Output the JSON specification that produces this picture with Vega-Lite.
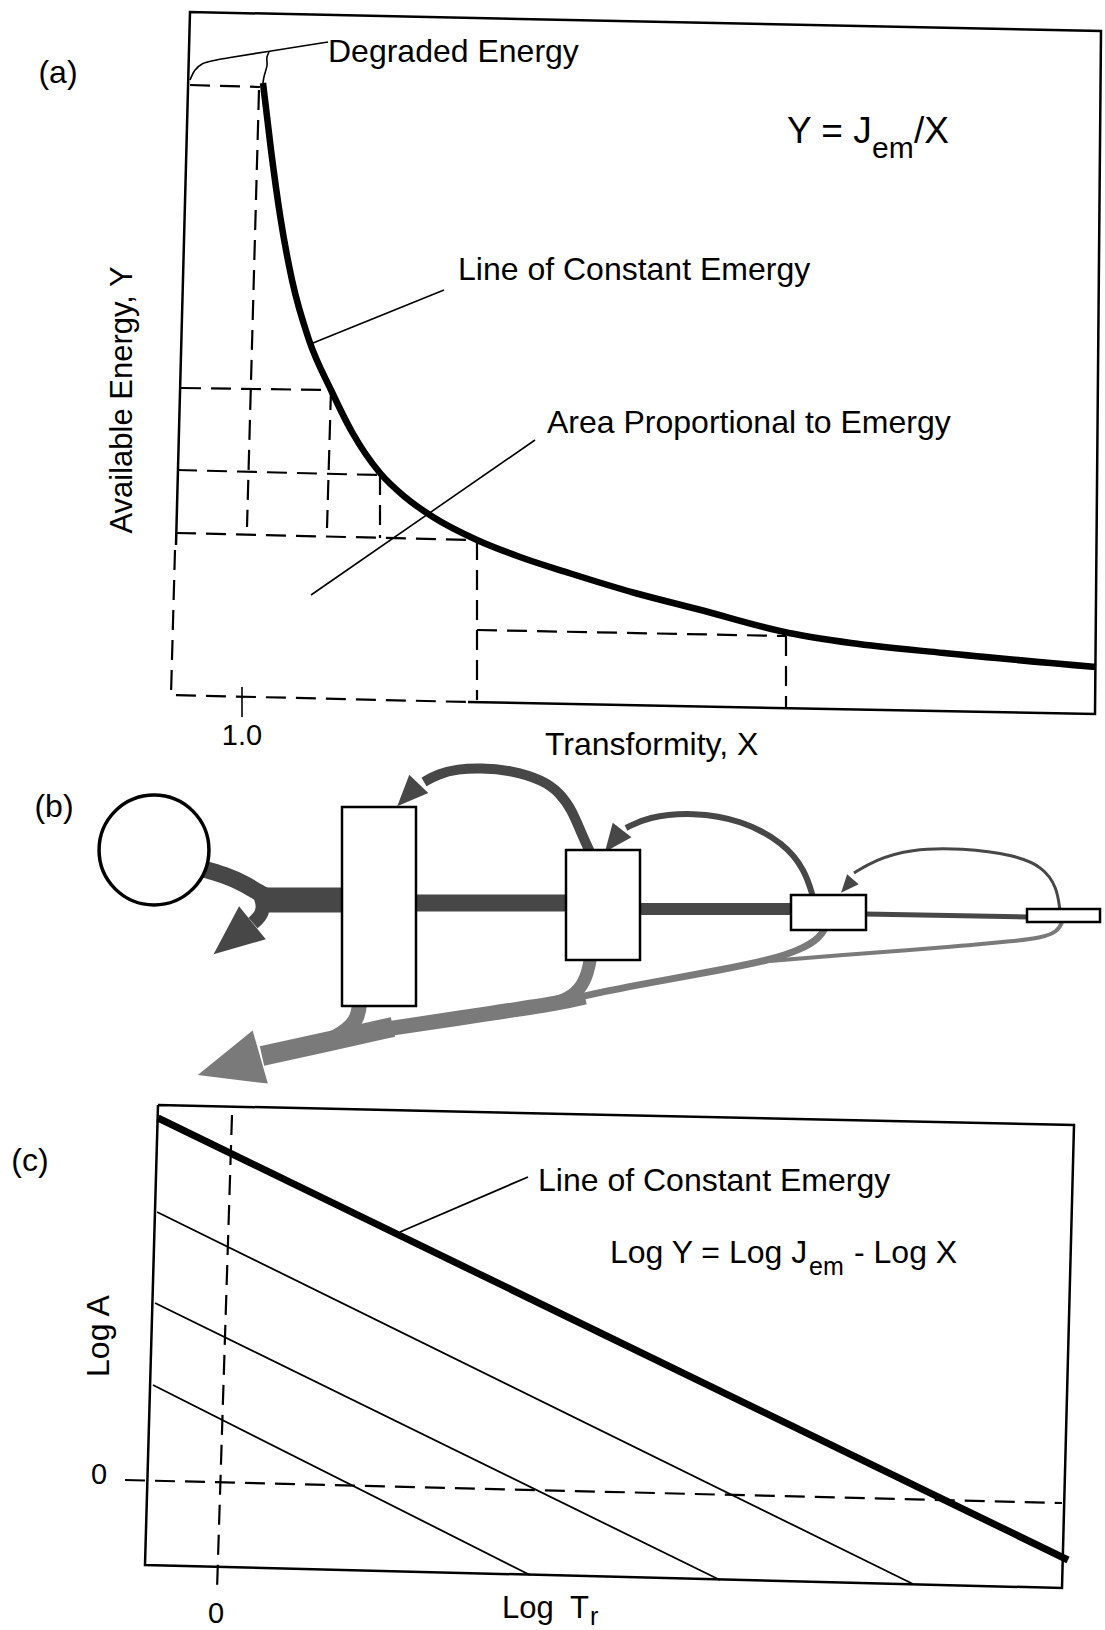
{
  "$schema": "https://vega.github.io/schema/vega-lite/v6.json",
  "background": "white",
  "padding": 0,
  "spacing": 0,
  "bounds": "flush",
  "config": {"view": {"stroke": null}, "font": "Liberation Sans"},
  "resolve": {"scale": {"x": "independent", "y": "independent"}},
  "datasets": {
    "a_lines": [
      {"id": "frame", "kind": "frame", "o": 1, "x": 0.35, "y": 1.50},
      {"id": "frame", "kind": "frame", "o": 2, "x": 0.49, "y": 6.83},
      {"id": "frame", "kind": "frame", "o": 3, "x": 9.60, "y": 6.64},
      {"id": "frame", "kind": "frame", "o": 4, "x": 9.54, "y": -0.19},
      {"id": "frame", "kind": "frame", "o": 5, "x": 3.27, "y": -0.07},
      {"id": "deg", "kind": "leader", "o": 1, "x": 0.49, "y": 6.15},
      {"id": "deg", "kind": "leader", "o": 2, "x": 0.53, "y": 6.25},
      {"id": "deg", "kind": "leader", "o": 3, "x": 0.61, "y": 6.32},
      {"id": "deg", "kind": "leader", "o": 4, "x": 0.72, "y": 6.35},
      {"id": "deg", "kind": "leader", "o": 5, "x": 1.87, "y": 6.53},
      {"id": "squig", "kind": "leader", "o": 1, "x": 1.28, "y": 6.43},
      {"id": "squig", "kind": "leader", "o": 2, "x": 1.25, "y": 6.37},
      {"id": "squig", "kind": "leader", "o": 3, "x": 1.27, "y": 6.30},
      {"id": "squig", "kind": "leader", "o": 4, "x": 1.23, "y": 6.20},
      {"id": "squig", "kind": "leader", "o": 5, "x": 1.22, "y": 6.12},
      {"id": "lead1", "kind": "leader", "o": 1, "x": 3.03, "y": 4.05},
      {"id": "lead1", "kind": "leader", "o": 2, "x": 1.72, "y": 3.52},
      {"id": "lead2", "kind": "leader", "o": 1, "x": 3.94, "y": 2.55},
      {"id": "lead2", "kind": "leader", "o": 2, "x": 1.70, "y": 1.00},
      {"id": "tick", "kind": "leader", "o": 1, "x": 1.01, "y": 0.08},
      {"id": "tick", "kind": "leader", "o": 2, "x": 1.01, "y": -0.22},
      {"id": "dl", "kind": "guide", "o": 1, "x": 0.34, "y": 1.45},
      {"id": "dl", "kind": "guide", "o": 2, "x": 0.30, "y": 0.00},
      {"id": "dl", "kind": "guide", "o": 3, "x": 3.27, "y": -0.07},
      {"id": "h1", "kind": "guide", "o": 1, "x": 0.49, "y": 6.10},
      {"id": "h1", "kind": "guide", "o": 2, "x": 1.19, "y": 6.08},
      {"id": "v1", "kind": "guide", "o": 1, "x": 1.18, "y": 6.05},
      {"id": "v1", "kind": "guide", "o": 2, "x": 1.06, "y": 1.68},
      {"id": "h2", "kind": "guide", "o": 1, "x": 0.40, "y": 3.07},
      {"id": "h2", "kind": "guide", "o": 2, "x": 1.89, "y": 3.05},
      {"id": "v2", "kind": "guide", "o": 1, "x": 1.90, "y": 3.05},
      {"id": "v2", "kind": "guide", "o": 2, "x": 1.86, "y": 1.67},
      {"id": "h3", "kind": "guide", "o": 1, "x": 0.36, "y": 2.25},
      {"id": "h3", "kind": "guide", "o": 2, "x": 2.37, "y": 2.20},
      {"id": "v3", "kind": "guide", "o": 1, "x": 2.39, "y": 2.20},
      {"id": "v3", "kind": "guide", "o": 2, "x": 2.39, "y": 1.57},
      {"id": "h4", "kind": "guide", "o": 1, "x": 0.35, "y": 1.62},
      {"id": "h4", "kind": "guide", "o": 2, "x": 3.34, "y": 1.55},
      {"id": "v4", "kind": "guide", "o": 1, "x": 3.36, "y": 1.55},
      {"id": "v4", "kind": "guide", "o": 2, "x": 3.36, "y": -0.05},
      {"id": "h5", "kind": "guide", "o": 1, "x": 3.36, "y": 0.65},
      {"id": "h5", "kind": "guide", "o": 2, "x": 6.45, "y": 0.59},
      {"id": "v5", "kind": "guide", "o": 1, "x": 6.45, "y": 0.59},
      {"id": "v5", "kind": "guide", "o": 2, "x": 6.45, "y": -0.12}
    ],
    "a_curve": [
      {"x": 1.22, "y": 6.12}, {"x": 1.30, "y": 5.45}, {"x": 1.39, "y": 4.80},
      {"x": 1.51, "y": 4.15}, {"x": 1.68, "y": 3.55}, {"x": 1.90, "y": 3.05},
      {"x": 2.11, "y": 2.63}, {"x": 2.39, "y": 2.22}, {"x": 2.64, "y": 1.98},
      {"x": 2.92, "y": 1.78}, {"x": 3.36, "y": 1.55}, {"x": 3.79, "y": 1.38},
      {"x": 4.28, "y": 1.22}, {"x": 4.94, "y": 1.02}, {"x": 5.56, "y": 0.86},
      {"x": 6.48, "y": 0.62}, {"x": 7.10, "y": 0.52}, {"x": 8.03, "y": 0.42},
      {"x": 9.55, "y": 0.28}
    ],
    "a_text": [
      {"t": "(a)", "role": "tag", "x": -0.83, "y": 6.12},
      {"t": "Degraded Energy", "role": "label", "x": 1.87, "y": 6.33},
      {"t": "Line of Constant Emergy", "role": "label", "x": 3.17, "y": 4.15},
      {"t": "Area Proportional to Emergy", "role": "label", "x": 4.06, "y": 2.62},
      {"t": "Transformity, X", "role": "label", "x": 4.04, "y": -0.60},
      {"t": "Y = J", "role": "eq", "x": 6.46, "y": 5.52},
      {"t": "em", "role": "sub", "x": 7.31, "y": 5.37},
      {"t": "/X", "role": "eq", "x": 7.73, "y": 5.52},
      {"t": "1.0", "role": "tick", "x": 1.01, "y": -0.50},
      {"t": "Available Energy, Y", "role": "ytitle", "x": -0.18, "y": 2.95}
    ],
    "b_flows": [
      {"id": "cs", "kind": "pipe", "flow": 17, "o": 1, "x": 2.00, "y": 1.03},
      {"id": "cs", "kind": "pipe", "flow": 17, "o": 2, "x": 2.25, "y": 1.10},
      {"id": "cs", "kind": "pipe", "flow": 17, "o": 3, "x": 2.45, "y": 1.19},
      {"id": "cs", "kind": "pipe", "flow": 17, "o": 4, "x": 2.62, "y": 1.30},
      {"id": "cs", "kind": "pipe", "flow": 17, "o": 5, "x": 2.75, "y": 1.35},
      {"id": "p1", "kind": "pipe", "flow": 25, "o": 1, "x": 2.62, "y": 1.35},
      {"id": "p1", "kind": "pipe", "flow": 25, "o": 2, "x": 3.43, "y": 1.35},
      {"id": "br", "kind": "pipe", "flow": 14, "o": 1, "x": 2.60, "y": 1.30},
      {"id": "br", "kind": "pipe", "flow": 14, "o": 2, "x": 2.64, "y": 1.42},
      {"id": "br", "kind": "pipe", "flow": 14, "o": 3, "x": 2.60, "y": 1.52},
      {"id": "br", "kind": "pipe", "flow": 14, "o": 4, "x": 2.53, "y": 1.58},
      {"id": "p2", "kind": "pipe", "flow": 17, "o": 1, "x": 4.15, "y": 1.38},
      {"id": "p2", "kind": "pipe", "flow": 17, "o": 2, "x": 5.67, "y": 1.38},
      {"id": "p3", "kind": "pipe", "flow": 12, "o": 1, "x": 6.39, "y": 1.44},
      {"id": "p3", "kind": "pipe", "flow": 12, "o": 2, "x": 7.92, "y": 1.44},
      {"id": "p4", "kind": "pipe", "flow": 5, "o": 1, "x": 8.65, "y": 1.49},
      {"id": "p4", "kind": "pipe", "flow": 5, "o": 2, "x": 10.28, "y": 1.52},
      {"id": "fb1", "kind": "pipe", "flow": 10, "o": 1, "x": 5.91, "y": 0.89},
      {"id": "fb1", "kind": "pipe", "flow": 10, "o": 2, "x": 5.82, "y": 0.70},
      {"id": "fb1", "kind": "pipe", "flow": 10, "o": 3, "x": 5.72, "y": 0.45},
      {"id": "fb1", "kind": "pipe", "flow": 10, "o": 4, "x": 5.60, "y": 0.28},
      {"id": "fb1", "kind": "pipe", "flow": 10, "o": 5, "x": 5.43, "y": 0.15},
      {"id": "fb1", "kind": "pipe", "flow": 10, "o": 6, "x": 5.10, "y": 0.05},
      {"id": "fb1", "kind": "pipe", "flow": 10, "o": 7, "x": 4.80, "y": 0.03},
      {"id": "fb1", "kind": "pipe", "flow": 10, "o": 8, "x": 4.58, "y": 0.04},
      {"id": "fb1", "kind": "pipe", "flow": 10, "o": 9, "x": 4.38, "y": 0.09},
      {"id": "fb1", "kind": "pipe", "flow": 10, "o": 10, "x": 4.24, "y": 0.17},
      {"id": "fb2", "kind": "pipe", "flow": 6, "o": 1, "x": 8.13, "y": 1.32},
      {"id": "fb2", "kind": "pipe", "flow": 6, "o": 2, "x": 8.05, "y": 1.05},
      {"id": "fb2", "kind": "pipe", "flow": 6, "o": 3, "x": 7.84, "y": 0.78},
      {"id": "fb2", "kind": "pipe", "flow": 6, "o": 4, "x": 7.42, "y": 0.55},
      {"id": "fb2", "kind": "pipe", "flow": 6, "o": 5, "x": 6.93, "y": 0.47},
      {"id": "fb2", "kind": "pipe", "flow": 6, "o": 6, "x": 6.47, "y": 0.52},
      {"id": "fb2", "kind": "pipe", "flow": 6, "o": 7, "x": 6.26, "y": 0.63},
      {"id": "fb3", "kind": "pipe", "flow": 3, "o": 1, "x": 10.60, "y": 1.46},
      {"id": "fb3", "kind": "pipe", "flow": 3, "o": 2, "x": 10.57, "y": 1.22},
      {"id": "fb3", "kind": "pipe", "flow": 3, "o": 3, "x": 10.43, "y": 1.02},
      {"id": "fb3", "kind": "pipe", "flow": 3, "o": 4, "x": 10.15, "y": 0.90},
      {"id": "fb3", "kind": "pipe", "flow": 3, "o": 5, "x": 9.62, "y": 0.83},
      {"id": "fb3", "kind": "pipe", "flow": 3, "o": 6, "x": 9.10, "y": 0.84},
      {"id": "fb3", "kind": "pipe", "flow": 3, "o": 7, "x": 8.75, "y": 0.95},
      {"id": "fb3", "kind": "pipe", "flow": 3, "o": 8, "x": 8.54, "y": 1.08},
      {"id": "lmL", "kind": "loss", "flow": 20, "o": 1, "x": 2.62, "y": 2.91},
      {"id": "lmL", "kind": "loss", "flow": 20, "o": 2, "x": 3.30, "y": 2.76},
      {"id": "lmL", "kind": "loss", "flow": 20, "o": 3, "x": 3.93, "y": 2.62},
      {"id": "lmR", "kind": "loss", "flow": 15, "o": 1, "x": 3.80, "y": 2.65},
      {"id": "lmR", "kind": "loss", "flow": 15, "o": 2, "x": 4.93, "y": 2.48},
      {"id": "lmR", "kind": "loss", "flow": 15, "o": 3, "x": 5.60, "y": 2.38},
      {"id": "lmR", "kind": "loss", "flow": 15, "o": 4, "x": 5.85, "y": 2.32},
      {"id": "lr1", "kind": "loss", "flow": 15, "o": 1, "x": 3.60, "y": 2.35},
      {"id": "lr1", "kind": "loss", "flow": 15, "o": 2, "x": 3.58, "y": 2.53},
      {"id": "lr1", "kind": "loss", "flow": 15, "o": 3, "x": 3.48, "y": 2.65},
      {"id": "lr1", "kind": "loss", "flow": 15, "o": 4, "x": 3.30, "y": 2.75},
      {"id": "lr2", "kind": "loss", "flow": 13, "o": 1, "x": 5.91, "y": 1.90},
      {"id": "lr2", "kind": "loss", "flow": 13, "o": 2, "x": 5.88, "y": 2.08},
      {"id": "lr2", "kind": "loss", "flow": 13, "o": 3, "x": 5.80, "y": 2.25},
      {"id": "lr2", "kind": "loss", "flow": 13, "o": 4, "x": 5.65, "y": 2.36},
      {"id": "lr2", "kind": "loss", "flow": 13, "o": 5, "x": 5.40, "y": 2.41},
      {"id": "lr3", "kind": "loss", "flow": 7, "o": 1, "x": 8.27, "y": 1.60},
      {"id": "lr3", "kind": "loss", "flow": 7, "o": 2, "x": 8.20, "y": 1.73},
      {"id": "lr3", "kind": "loss", "flow": 7, "o": 3, "x": 8.00, "y": 1.85},
      {"id": "lr3", "kind": "loss", "flow": 7, "o": 4, "x": 7.70, "y": 1.95},
      {"id": "lr3", "kind": "loss", "flow": 7, "o": 5, "x": 7.20, "y": 2.05},
      {"id": "lr3", "kind": "loss", "flow": 7, "o": 6, "x": 6.65, "y": 2.15},
      {"id": "lr3", "kind": "loss", "flow": 7, "o": 7, "x": 6.00, "y": 2.27},
      {"id": "lr3", "kind": "loss", "flow": 7, "o": 8, "x": 5.60, "y": 2.37},
      {"id": "lr4", "kind": "loss", "flow": 4, "o": 1, "x": 10.63, "y": 1.55},
      {"id": "lr4", "kind": "loss", "flow": 4, "o": 2, "x": 10.58, "y": 1.67},
      {"id": "lr4", "kind": "loss", "flow": 4, "o": 3, "x": 10.40, "y": 1.73},
      {"id": "lr4", "kind": "loss", "flow": 4, "o": 4, "x": 10.15, "y": 1.76},
      {"id": "lr4", "kind": "loss", "flow": 4, "o": 5, "x": 9.60, "y": 1.81},
      {"id": "lr4", "kind": "loss", "flow": 4, "o": 6, "x": 9.10, "y": 1.85},
      {"id": "lr4", "kind": "loss", "flow": 4, "o": 7, "x": 8.40, "y": 1.90},
      {"id": "lr4", "kind": "loss", "flow": 4, "o": 8, "x": 7.70, "y": 1.96}
    ],
    "b_heads": [
      {"id": "a1", "kind": "pipe", "head": 50, "dir": 231, "x": 2.33, "y": 1.735},
      {"id": "big", "kind": "loss", "head": 65, "dir": 254, "x": 2.29, "y": 3.01},
      {"id": "f1", "kind": "pipe", "head": 31, "dir": 224, "x": 4.08, "y": 0.30},
      {"id": "f2", "kind": "pipe", "head": 28, "dir": 218, "x": 6.135, "y": 0.76},
      {"id": "f3", "kind": "pipe", "head": 18, "dir": 221, "x": 8.47, "y": 1.21}
    ],
    "b_units": [
      {"id": "R1", "x": 3.42, "x2": 4.16, "y": 0.42, "y2": 2.41},
      {"id": "R2", "x": 5.66, "x2": 6.40, "y": 0.85, "y2": 1.95},
      {"id": "R3", "x": 7.91, "x2": 8.66, "y": 1.30, "y2": 1.65},
      {"id": "R4", "x": 10.27, "x2": 11.00, "y": 1.44, "y2": 1.57}
    ],
    "b_source": [{"id": "source", "x": 1.54, "y": 0.85}],
    "b_text": [{"t": "(b)", "x": 0.54, "y": 0.52}],
    "c_lines": [
      {"id": "frame", "kind": "frame", "o": 1, "x": -0.67, "y": 3.75},
      {"id": "frame", "kind": "frame", "o": 2, "x": 8.49, "y": 3.55},
      {"id": "frame", "kind": "frame", "o": 3, "x": 8.37, "y": -1.08},
      {"id": "frame", "kind": "frame", "o": 4, "x": -0.80, "y": -0.85},
      {"id": "frame", "kind": "frame", "o": 5, "x": -0.67, "y": 3.75},
      {"id": "main", "kind": "main", "o": 1, "x": -0.67, "y": 3.62},
      {"id": "main", "kind": "main", "o": 2, "x": 8.43, "y": -0.80},
      {"id": "l2", "kind": "em", "o": 1, "x": -0.68, "y": 2.68},
      {"id": "l2", "kind": "em", "o": 2, "x": 6.88, "y": -1.04},
      {"id": "l3", "kind": "em", "o": 1, "x": -0.70, "y": 1.77},
      {"id": "l3", "kind": "em", "o": 2, "x": 4.95, "y": -1.00},
      {"id": "l4", "kind": "em", "o": 1, "x": -0.72, "y": 0.95},
      {"id": "l4", "kind": "em", "o": 2, "x": 3.05, "y": -0.95},
      {"id": "lead", "kind": "leader", "o": 1, "x": 3.03, "y": 3.03},
      {"id": "lead", "kind": "leader", "o": 2, "x": 1.75, "y": 2.48},
      {"id": "gv", "kind": "guide", "o": 1, "x": 0.07, "y": 3.65},
      {"id": "gv", "kind": "guide", "o": 2, "x": -0.08, "y": -1.10},
      {"id": "gh", "kind": "guide", "o": 1, "x": -1.00, "y": 0.00},
      {"id": "gh", "kind": "guide", "o": 2, "x": 8.37, "y": -0.23}
    ],
    "c_text": [
      {"t": "(c)", "role": "tag", "x": -1.95, "y": 3.09},
      {"t": "Line of Constant Emergy", "role": "label", "x": 3.13, "y": 2.89},
      {"t": "Log Y = Log J", "role": "eq", "x": 3.85, "y": 2.17},
      {"t": "em", "role": "sub", "x": 5.84, "y": 2.05},
      {"t": "- Log X", "role": "eq", "x": 6.29, "y": 2.17},
      {"t": "Log", "role": "title", "x": 2.77, "y": -1.38},
      {"t": "T", "role": "title", "x": 3.45, "y": -1.38},
      {"t": "r", "role": "sub", "x": 3.65, "y": -1.45},
      {"t": "0", "role": "tick", "x": -1.26, "y": -0.04},
      {"t": "0", "role": "tick", "x": -0.09, "y": -1.43},
      {"t": "Log A", "role": "ytitle", "x": -1.26, "y": 1.44}
    ]
  },
  "vconcat": [
    {
      "width": 1105,
      "height": 765,
      "encoding": {
        "x": {"field": "x", "type": "quantitative", "axis": null, "scale": {"domain": [-1.41, 9.64], "nice": false, "zero": false}},
        "y": {"field": "y", "type": "quantitative", "axis": null, "scale": {"domain": [-0.70, 6.95], "nice": false, "zero": false}}
      },
      "layer": [
        {
          "data": {"name": "a_lines"},
          "transform": [{"filter": "datum.kind == 'guide'"}],
          "mark": {"type": "line", "color": "black", "strokeWidth": 2.2, "strokeDash": [20, 10]},
          "encoding": {"detail": {"field": "id", "type": "nominal"}, "order": {"field": "o", "type": "quantitative"}}
        },
        {
          "data": {"name": "a_lines"},
          "transform": [{"filter": "datum.kind == 'frame'"}],
          "mark": {"type": "line", "color": "black", "strokeWidth": 2.5},
          "encoding": {"detail": {"field": "id", "type": "nominal"}, "order": {"field": "o", "type": "quantitative"}}
        },
        {
          "data": {"name": "a_lines"},
          "transform": [{"filter": "datum.kind == 'leader'"}],
          "mark": {"type": "line", "color": "black", "strokeWidth": 1.6, "interpolate": "basis"},
          "encoding": {"detail": {"field": "id", "type": "nominal"}, "order": {"field": "o", "type": "quantitative"}}
        },
        {
          "data": {"name": "a_curve"},
          "mark": {"type": "line", "color": "black", "strokeWidth": 6.5, "interpolate": "monotone"},
          "encoding": {}
        },
        {
          "data": {"name": "a_text"},
          "transform": [{"filter": "datum.role == 'label'"}],
          "mark": {"type": "text", "align": "left", "baseline": "alphabetic", "fontSize": 32, "font": "Liberation Sans", "color": "black"},
          "encoding": {"text": {"field": "t"}}
        },
        {
          "data": {"name": "a_text"},
          "transform": [{"filter": "datum.role == 'eq'"}],
          "mark": {"type": "text", "align": "left", "baseline": "alphabetic", "fontSize": 37, "font": "Liberation Sans", "color": "black"},
          "encoding": {"text": {"field": "t"}}
        },
        {
          "data": {"name": "a_text"},
          "transform": [{"filter": "datum.role == 'sub'"}],
          "mark": {"type": "text", "align": "left", "baseline": "alphabetic", "fontSize": 30, "font": "Liberation Sans", "color": "black"},
          "encoding": {"text": {"field": "t"}}
        },
        {
          "data": {"name": "a_text"},
          "transform": [{"filter": "datum.role == 'tag'"}],
          "mark": {"type": "text", "align": "center", "baseline": "alphabetic", "fontSize": 32, "font": "Liberation Sans", "color": "black"},
          "encoding": {"text": {"field": "t"}}
        },
        {
          "data": {"name": "a_text"},
          "transform": [{"filter": "datum.role == 'tick'"}],
          "mark": {"type": "text", "align": "center", "baseline": "alphabetic", "fontSize": 29, "font": "Liberation Sans", "color": "black"},
          "encoding": {"text": {"field": "t"}}
        },
        {
          "data": {"name": "a_text"},
          "transform": [{"filter": "datum.role == 'ytitle'"}],
          "mark": {"type": "text", "align": "center", "baseline": "middle", "angle": 270, "fontSize": 31, "font": "Liberation Sans", "color": "black"},
          "encoding": {"text": {"field": "t"}}
        }
      ]
    },
    {
      "width": 1105,
      "height": 330,
      "encoding": {
        "x": {"field": "x", "type": "quantitative", "axis": null, "scale": {"domain": [0, 11.05], "nice": false, "zero": false}},
        "y": {"field": "y", "type": "quantitative", "axis": null, "scale": {"domain": [0, 3.30], "nice": false, "zero": false, "reverse": true}}
      },
      "layer": [
        {
          "data": {"name": "b_flows"},
          "mark": {"type": "line", "interpolate": "basis", "strokeCap": "butt"},
          "encoding": {
            "detail": {"field": "id", "type": "nominal"},
            "order": {"field": "o", "type": "quantitative"},
            "color": {"field": "kind", "type": "nominal", "scale": {"domain": ["pipe", "loss"], "range": ["#474747", "#7a7a7a"]}, "legend": null},
            "strokeWidth": {"field": "flow", "type": "quantitative", "scale": {"domain": [0, 25], "range": [0, 25], "zero": true}, "legend": null}
          }
        },
        {
          "data": {"name": "b_heads"},
          "mark": {"type": "point", "shape": "M0,-1L0.85,1L-0.85,1Z", "filled": true, "opacity": 1, "strokeWidth": 0},
          "encoding": {
            "color": {"field": "kind", "type": "nominal", "scale": {"domain": ["pipe", "loss"], "range": ["#474747", "#7a7a7a"]}, "legend": null},
            "size": {"field": "head", "type": "quantitative", "scale": {"type": "pow", "exponent": 2, "domain": [0, 100], "range": [0, 10000]}, "legend": null},
            "angle": {"field": "dir", "type": "quantitative", "scale": null}
          }
        },
        {
          "data": {"name": "b_units"},
          "mark": {"type": "rect", "fill": "white", "stroke": "black", "strokeWidth": 2.5},
          "encoding": {
            "x2": {"field": "x2"},
            "y2": {"field": "y2"}
          }
        },
        {
          "data": {"name": "b_source"},
          "mark": {"type": "point", "shape": "circle", "size": 12076, "fill": "white", "fillOpacity": 1, "stroke": "black", "strokeWidth": 3.5, "opacity": 1}
        },
        {
          "data": {"name": "b_text"},
          "mark": {"type": "text", "align": "center", "baseline": "alphabetic", "fontSize": 32, "font": "Liberation Sans", "color": "black"},
          "encoding": {"text": {"field": "t"}}
        }
      ]
    },
    {
      "width": 1105,
      "height": 535,
      "encoding": {
        "x": {"field": "x", "type": "quantitative", "axis": null, "scale": {"domain": [-2.25, 8.80], "nice": false, "zero": false}},
        "y": {"field": "y", "type": "quantitative", "axis": null, "scale": {"domain": [-1.50, 3.85], "nice": false, "zero": false}}
      },
      "layer": [
        {
          "data": {"name": "c_lines"},
          "transform": [{"filter": "datum.kind == 'guide'"}],
          "mark": {"type": "line", "color": "black", "strokeWidth": 2.2, "strokeDash": [20, 10]},
          "encoding": {"detail": {"field": "id", "type": "nominal"}, "order": {"field": "o", "type": "quantitative"}}
        },
        {
          "data": {"name": "c_lines"},
          "transform": [{"filter": "datum.kind == 'frame'"}],
          "mark": {"type": "line", "color": "black", "strokeWidth": 2.5},
          "encoding": {"detail": {"field": "id", "type": "nominal"}, "order": {"field": "o", "type": "quantitative"}}
        },
        {
          "data": {"name": "c_lines"},
          "transform": [{"filter": "datum.kind == 'em' || datum.kind == 'leader'"}],
          "mark": {"type": "line", "color": "black", "strokeWidth": 1.8},
          "encoding": {"detail": {"field": "id", "type": "nominal"}, "order": {"field": "o", "type": "quantitative"}}
        },
        {
          "data": {"name": "c_lines"},
          "transform": [{"filter": "datum.kind == 'main'"}],
          "mark": {"type": "line", "color": "black", "strokeWidth": 7},
          "encoding": {"detail": {"field": "id", "type": "nominal"}, "order": {"field": "o", "type": "quantitative"}}
        },
        {
          "data": {"name": "c_text"},
          "transform": [{"filter": "datum.role == 'label'"}],
          "mark": {"type": "text", "align": "left", "baseline": "alphabetic", "fontSize": 32, "font": "Liberation Sans", "color": "black"},
          "encoding": {"text": {"field": "t"}}
        },
        {
          "data": {"name": "c_text"},
          "transform": [{"filter": "datum.role == 'eq'"}],
          "mark": {"type": "text", "align": "left", "baseline": "alphabetic", "fontSize": 32, "font": "Liberation Sans", "color": "black"},
          "encoding": {"text": {"field": "t"}}
        },
        {
          "data": {"name": "c_text"},
          "transform": [{"filter": "datum.role == 'title'"}],
          "mark": {"type": "text", "align": "left", "baseline": "alphabetic", "fontSize": 31, "font": "Liberation Sans", "color": "black"},
          "encoding": {"text": {"field": "t"}}
        },
        {
          "data": {"name": "c_text"},
          "transform": [{"filter": "datum.role == 'sub'"}],
          "mark": {"type": "text", "align": "left", "baseline": "alphabetic", "fontSize": 25, "font": "Liberation Sans", "color": "black"},
          "encoding": {"text": {"field": "t"}}
        },
        {
          "data": {"name": "c_text"},
          "transform": [{"filter": "datum.role == 'tag'"}],
          "mark": {"type": "text", "align": "center", "baseline": "alphabetic", "fontSize": 32, "font": "Liberation Sans", "color": "black"},
          "encoding": {"text": {"field": "t"}}
        },
        {
          "data": {"name": "c_text"},
          "transform": [{"filter": "datum.role == 'tick'"}],
          "mark": {"type": "text", "align": "center", "baseline": "alphabetic", "fontSize": 29, "font": "Liberation Sans", "color": "black"},
          "encoding": {"text": {"field": "t"}}
        },
        {
          "data": {"name": "c_text"},
          "transform": [{"filter": "datum.role == 'ytitle'"}],
          "mark": {"type": "text", "align": "center", "baseline": "middle", "angle": 270, "fontSize": 32, "font": "Liberation Sans", "color": "black"},
          "encoding": {"text": {"field": "t"}}
        }
      ]
    }
  ]
}
